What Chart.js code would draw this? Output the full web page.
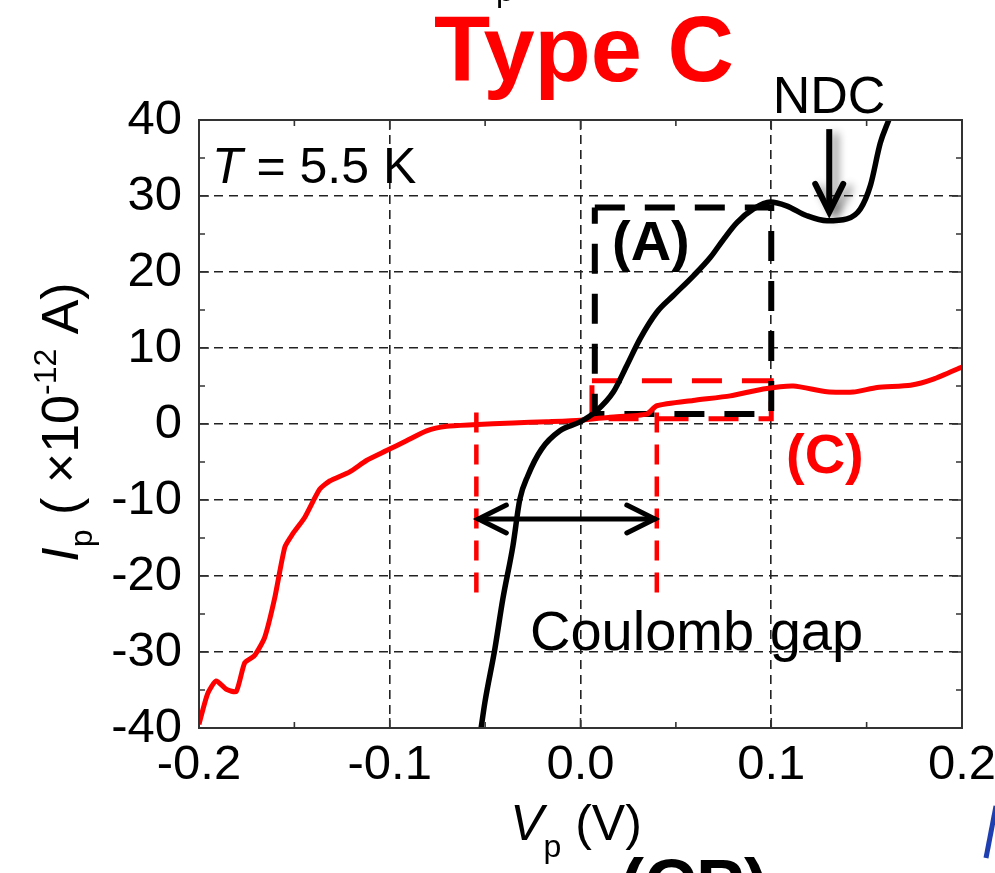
<!DOCTYPE html>
<html>
<head>
<meta charset="utf-8">
<script src="https://cdn.jsdelivr.net/npm/chart.js@4.4.1/dist/chart.umd.min.js"></script>
<style>
  html, body { margin: 0; padding: 0; background: #fff; overflow: hidden; }
</style>
</head>
<body>
<canvas id="ivChart" width="995" height="873"></canvas>
<script>
// tick values
const xTicks = [-0.2, -0.1, 0, 0.1, 0.2];
const xMinor = [-0.15, -0.05, 0.05, 0.15];
const yTicks = [-40, -30, -20, -10, 0, 10, 20, 30, 40];
const yMinor = [-35, -25, -15, -5, 5, 15, 25, 35];

// (C) curve, red
const redX = [-0.2, -0.1955, -0.191, -0.1857, -0.1805, -0.176, -0.171, -0.1656, -0.1604, -0.155,
  -0.151, -0.1446, -0.1368, -0.1315, -0.121, -0.1122, -0.1017, -0.0912, -0.0807, -0.0702,
  -0.0564, -0.0354, -0.0177, 0, 0.0155, 0.0347, 0.04, 0.059, 0.0785, 0.0958,
  0.1116, 0.1292, 0.143, 0.1555, 0.173, 0.185, 0.2];
const redY = [-39.5, -35.5, -33.8, -34.9, -35.2, -31.4, -30.5, -28.1, -23, -16.2,
  -14.5, -12.3, -8.6, -7.5, -6.3, -4.8, -3.5, -2.2, -0.9, -0.3,
  -0.1, 0.13, 0.3, 0.5, 0.9, 1.3, 2.4, 3.1, 3.7, 4.6,
  5.0, 4.25, 4.2, 4.8, 5.1, 5.9, 7.5];

// (A) curve, black
const blackX = [-0.0521, -0.0501, -0.0449, -0.0407, -0.0354, -0.0318, -0.0276, -0.0204, -0.0108, 0,
  0.0085, 0.0172, 0.0243, 0.0312, 0.04, 0.0487, 0.0592, 0.068, 0.075, 0.082,
  0.0907, 0.0995, 0.108, 0.1187, 0.1292, 0.1397, 0.1467, 0.152, 0.1572, 0.1616];
const blackY = [-40, -36.6, -29.6, -23, -16, -9.9, -6.8, -3.3, -0.9, 0.3,
  1.75, 4.2, 7.7, 11.2, 14.7, 16.9, 19.5, 21.9, 24.3, 26.5,
  28.3, 29.2, 28.7, 27.4, 26.75, 27, 28.3, 31.4, 37, 40];

// dashed boxes marking regions (A) and (C)
const boxAX = [0.0075, 0.1, 0.1, 0.0075, 0.0075];
const boxAY = [28.5, 28.5, 1.3, 1.3, 28.5];
const boxCX = [0.006, 0.1, 0.1, 0.006, 0.006];
const boxCY = [5.7, 5.7, 0.7, 0.7, 5.7];

// Coulomb gap markers
const gapX = [-0.0546, 0.04];
const gapY = [1.5, -23.2];
const gapArrowY = -12.5;

// NDC arrow
const ndcX = 0.1304;
const ndcY = [38.8, 27.9];

const FONT = "'Liberation Sans', Arial, sans-serif";

function pts(xs, ys) {
  return xs.map((x, i) => ({ x: x, y: ys[i] }));
}

function chevron(ctx, tx, ty, dx, dy, len, half) {
  const bx = tx - dx * len, by = ty - dy * len;
  ctx.beginPath();
  ctx.moveTo(bx - dy * half, by + dx * half);
  ctx.lineTo(tx, ty);
  ctx.lineTo(bx + dy * half, by - dx * half);
  ctx.stroke();
}

// draws a string made of pieces: [text, font, baselineShift]
function drawPieces(ctx, pieces, x, y) {
  let cx = x;
  pieces.forEach(p => {
    ctx.font = p[1];
    ctx.fillText(p[0], cx, y + (p[2] || 0));
    cx += ctx.measureText(p[0]).width;
  });
  return cx - x;
}

function piecesWidth(ctx, pieces) {
  let w = 0;
  pieces.forEach(p => { ctx.font = p[1]; w += ctx.measureText(p[0]).width; });
  return w;
}

const decorPlugin = {
  id: 'decor',
  afterDatasetsDraw(chart) {
    const ctx = chart.ctx;
    const a = chart.chartArea;
    const xs = chart.scales.x, ys = chart.scales.y;

    // frame
    ctx.save();
    ctx.strokeStyle = '#333';
    ctx.lineWidth = 2;
    ctx.strokeRect(a.left, a.top, a.right - a.left, a.bottom - a.top);

    // inward ticks on all four sides
    ctx.lineWidth = 1.6;
    ctx.beginPath();
    xTicks.concat(xMinor).forEach(v => {
      const px = xs.getPixelForValue(v);
      const l = xMinor.includes(v) ? 6 : 10;
      ctx.moveTo(px, a.bottom); ctx.lineTo(px, a.bottom - l);
      ctx.moveTo(px, a.top); ctx.lineTo(px, a.top + l);
    });
    yTicks.concat(yMinor).forEach(v => {
      const py = ys.getPixelForValue(v);
      const l = yMinor.includes(v) ? 6 : 10;
      ctx.moveTo(a.left, py); ctx.lineTo(a.left + l, py);
      ctx.moveTo(a.right, py); ctx.lineTo(a.right - l, py);
    });
    ctx.stroke();

    // Coulomb gap double arrow
    ctx.strokeStyle = '#000';
    ctx.lineWidth = 5;
    ctx.lineCap = 'round';
    const gy = ys.getPixelForValue(gapArrowY);
    const g1 = xs.getPixelForValue(gapX[0]) + 2, g2 = xs.getPixelForValue(gapX[1]) - 2;
    ctx.beginPath();
    ctx.moveTo(g1, gy); ctx.lineTo(g2, gy);
    ctx.stroke();
    chevron(ctx, g1, gy, -1, 0, 28, 14);
    chevron(ctx, g2, gy, 1, 0, 28, 14);

    // NDC arrow with soft shadow
    const nx = xs.getPixelForValue(ndcX);
    const n1 = ys.getPixelForValue(ndcY[0]), n2 = ys.getPixelForValue(ndcY[1]);
    ctx.shadowColor = 'rgba(0,0,0,0.45)';
    ctx.shadowBlur = 8;
    ctx.shadowOffsetX = 6;
    ctx.shadowOffsetY = 4;
    ctx.lineWidth = 6;
    ctx.lineCap = 'butt';
    ctx.beginPath();
    ctx.moveTo(nx, n1); ctx.lineTo(nx, n2 - 4);
    ctx.stroke();
    ctx.lineCap = 'round';
    chevron(ctx, nx, n2, 0, 1, 28, 14);
    ctx.restore();

    // texts
    ctx.save();
    ctx.textBaseline = 'alphabetic';
    ctx.textAlign = 'left';
    ctx.fillStyle = '#000';

    drawPieces(ctx, [['T', 'italic 50px ' + FONT], [' = 5.5 K', '50px ' + FONT]], 212, 183);

    ctx.textAlign = 'center';
    ctx.font = '52px ' + FONT;
    ctx.fillText('NDC', 829, 113);

    ctx.font = 'bold 92px ' + FONT;
    ctx.fillStyle = '#ff0000';
    ctx.fillText('Type C', 584, 81);

    ctx.textAlign = 'left';
    ctx.font = 'bold 56px ' + FONT;
    ctx.fillText('(C)', 786, 473);
    ctx.fillStyle = '#000';
    ctx.fillText('(A)', 612, 260);

    ctx.font = '56px ' + FONT;
    ctx.fillText('Coulomb gap', 530, 650);

    // cut-off subscript at the very top
    ctx.font = '32px ' + FONT;
    ctx.fillText('p', 496, 1);

    // x axis title
    const xt = [['V', 'italic 50px ' + FONT, 0], ['p', '32px ' + FONT, 17], [' (V)', '50px ' + FONT, 0]];
    drawPieces(ctx, xt, 576 - piecesWidth(ctx, xt) / 2, 840);

    // y axis title, rotated
    ctx.translate(78, 422);
    ctx.rotate(-Math.PI / 2);
    const yt = [['I', 'italic 52px ' + FONT, 0], ['p', '32px ' + FONT, 14], [' ( \u00d710', '52px ' + FONT, 0],
      ['-12', '32px ' + FONT, -22], [' A)', '52px ' + FONT, 0]];
    drawPieces(ctx, yt, -piecesWidth(ctx, yt) / 2, 0);
    ctx.restore();

    // slide fragments at the bottom edge
    ctx.save();
    ctx.fillStyle = '#000';
    ctx.textAlign = 'right';
    ctx.font = '64px ' + FONT;
    ctx.fillText('test at contact point', 590, 920);
    ctx.textAlign = 'left';
    ctx.font = 'bold 72px ' + FONT;
    ctx.fillText('(CP)', 620, 910);
    ctx.strokeStyle = '#1f3fb0';
    ctx.lineWidth = 5;
    ctx.beginPath();
    ctx.moveTo(996, 806); ctx.lineTo(986, 858);
    ctx.stroke();
    ctx.restore();
  }
};

new Chart(document.getElementById('ivChart').getContext('2d'), {
  type: 'scatter',
  data: {
    datasets: [
      {
        label: '(A)',
        data: pts(blackX, blackY),
        showLine: true,
        borderColor: '#000',
        borderWidth: 5.5,
        pointRadius: 0,
        cubicInterpolationMode: 'monotone',
        order: 1
      },
      {
        label: '(C)',
        data: pts(redX, redY),
        showLine: true,
        borderColor: '#ff0000',
        borderWidth: 5,
        pointRadius: 0,
        tension: 0.2,
        order: 2
      },
      {
        label: 'box A',
        data: pts(boxAX, boxAY),
        showLine: true,
        borderColor: '#000',
        borderWidth: 6,
        borderDash: [30, 20],
        pointRadius: 0,
        order: 3
      },
      {
        label: 'box C',
        data: pts(boxCX, boxCY),
        showLine: true,
        borderColor: '#ff0000',
        borderWidth: 5,
        borderDash: [30, 20],
        pointRadius: 0,
        order: 4
      },
      {
        label: 'gap left',
        data: pts([gapX[0], gapX[0]], gapY),
        showLine: true,
        borderColor: '#ff0000',
        borderWidth: 4.5,
        borderDash: [20, 12],
        pointRadius: 0,
        order: 5
      },
      {
        label: 'gap right',
        data: pts([gapX[1], gapX[1]], gapY),
        showLine: true,
        borderColor: '#ff0000',
        borderWidth: 4.5,
        borderDash: [20, 12],
        pointRadius: 0,
        order: 5
      }
    ]
  },
  options: {
    responsive: false,
    animation: false,
    events: [],
    layout: { padding: { left: 0, right: 33, top: 120, bottom: 0 } },
    plugins: { legend: { display: false }, tooltip: { enabled: false } },
    scales: {
      x: {
        type: 'linear',
        min: -0.2,
        max: 0.2,
        afterBuildTicks: s => { s.ticks = xTicks.map(v => ({ value: v })); },
        afterFit: s => { s.height = 145; s.paddingLeft = 0; s.paddingRight = 0; },
        ticks: {
          color: '#000',
          font: { family: FONT, size: 49 },
          padding: 8,
          maxRotation: 0,
          autoSkip: false,
          callback: v => v.toFixed(1)
        },
        grid: { color: '#222', lineWidth: 1.6, drawTicks: false },
        border: { display: false, dash: [9, 6] }
      },
      y: {
        type: 'linear',
        min: -40,
        max: 40,
        afterBuildTicks: s => { s.ticks = yTicks.map(v => ({ value: v })); },
        afterFit: s => { s.width = 199; },
        ticks: {
          color: '#000',
          font: { family: FONT, size: 49 },
          padding: 17,
          autoSkip: false,
          callback: v => String(v)
        },
        grid: { color: '#222', lineWidth: 1.6, drawTicks: false },
        border: { display: false, dash: [9, 6] }
      }
    }
  },
  plugins: [decorPlugin]
});
</script>
</body>
</html>
